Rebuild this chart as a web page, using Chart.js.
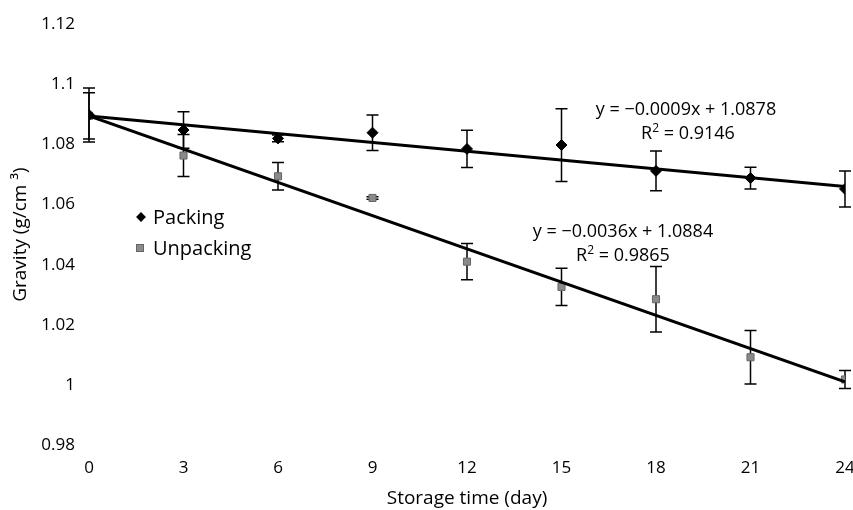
<!DOCTYPE html>
<html><head><meta charset="utf-8">
<script src="https://cdn.jsdelivr.net/npm/chart.js@4"></script>
<style>
html,body{margin:0;padding:0;background:#fff;}
#wrap{position:relative;width:853px;height:510px;overflow:hidden;}
#c{position:absolute;left:0;top:0;}
.t{position:absolute;font-family:'Open Sans',sans-serif;color:#000;white-space:nowrap;font-size:18px;line-height:1;transform:translate(-50%,-50%);}
.lg{position:absolute;font-family:'Open Sans',sans-serif;color:#000;white-space:nowrap;font-size:20px;line-height:1;transform:translateY(-50%);}
.dia{position:absolute;width:7px;height:7px;background:#000;transform:translate(-50%,-50%) rotate(45deg);}
.sq{position:absolute;width:8px;height:8px;background:#8a8a8a;border:1px solid #666;box-sizing:border-box;transform:translate(-50%,-50%);}
sup{font-size:12px;vertical-align:0;position:relative;top:-7px;}
</style></head><body>
<div id="wrap">
<canvas id="c" width="853" height="510"></canvas>
<div class="t" style="left:686px;top:108px">y = −0.0009x + 1.0878</div>
<div class="t" style="left:688px;top:132px">R<sup>2</sup> = 0.9146</div>
<div class="t" style="left:623px;top:230px">y = −0.0036x + 1.0884</div>
<div class="t" style="left:623px;top:254px">R<sup>2</sup> = 0.9865</div>
<div class="dia" style="left:141px;top:217px"></div>
<div class="lg" style="left:153px;top:217px">Packing</div>
<div class="sq" style="left:140px;top:248px"></div>
<div class="lg" style="left:153px;top:248px">Unpacking</div>
</div>
<script>
const days = [0, 3, 6, 9, 12, 15, 18, 21, 24];
const packing = [1.0898, 1.0848, 1.0820, 1.0839, 1.0785, 1.0798, 1.0712, 1.0688, 1.0652];
const packingErr = [0.0090, 0.0061, 0.0011, 0.0059, 0.0062, 0.0121, 0.0066, 0.0036, 0.0060];
const unpacking = [1.0895, 1.0763, 1.0694, 1.0622, 1.0410, 1.0326, 1.0285, 1.0092, 1.0018];
const unpackingErr = [0.0077, 0.0070, 0.0046, 0.0004, 0.0060, 0.0062, 0.0109, 0.0089, 0.0030];
const trendDays = [0, 24];
const packingTrend = [1.0895, 1.0660];
const unpackingTrend = [1.0895, 1.0010];
const xTicks = [0, 3, 6, 9, 12, 15, 18, 21, 24];
const yTicks = [0.98, 1.0, 1.02, 1.04, 1.06, 1.08, 1.1, 1.12];

const pts = (xs, ys) => xs.map((x, i) => ({x: x, y: ys[i]}));

const errorBars = {
  id: 'errorBars',
  beforeDatasetsDraw(chart) {
    const ctx = chart.ctx, xs = chart.scales.x, ys = chart.scales.y;
    ctx.save();
    ctx.strokeStyle = '#000';
    ctx.lineWidth = 1.5;
    const draw = (vals, errs) => {
      days.forEach((d, i) => {
        const px = xs.getPixelForValue(d);
        const top = ys.getPixelForValue(vals[i] + errs[i]);
        const bot = ys.getPixelForValue(vals[i] - errs[i]);
        ctx.beginPath();
        ctx.moveTo(px, top); ctx.lineTo(px, bot);
        ctx.moveTo(px - 6, top); ctx.lineTo(px + 6, top);
        ctx.moveTo(px - 6, bot); ctx.lineTo(px + 6, bot);
        ctx.stroke();
      });
    };
    draw(packing, packingErr);
    draw(unpacking, unpackingErr);
    ctx.restore();
  }
};

new Chart(document.getElementById('c'), {
  type: 'scatter',
  data: {
    datasets: [
      {label: 'Packing trend', data: pts(trendDays, packingTrend), showLine: true, borderColor: '#000', borderWidth: 3, pointRadius: 0, order: 1},
      {label: 'Unpacking trend', data: pts(trendDays, unpackingTrend), showLine: true, borderColor: '#000', borderWidth: 3, pointRadius: 0, order: 1},
      {label: 'Packing', data: pts(days, packing), pointStyle: 'rectRot', pointRadius: 5.5, backgroundColor: '#000', borderColor: '#000', borderWidth: 1, order: 2},
      {label: 'Unpacking', data: pts(days, unpacking), pointStyle: 'rect', pointRadius: 5, backgroundColor: '#8a8a8a', borderColor: '#666', borderWidth: 1, order: 3}
    ]
  },
  plugins: [errorBars],
  options: {
    responsive: false,
    animation: false,
    events: [],
    layout: {padding: {top: 22, right: 8, left: 0, bottom: 0}},
    plugins: {legend: {display: false}, tooltip: {enabled: false}},
    scales: {
      x: {
        type: 'linear', min: 0, max: 24,
        afterBuildTicks: s => { s.ticks = xTicks.map(v => ({value: v})); },
        afterFit: s => { s.height = 65; s.paddingRight = 0; s.paddingLeft = 0; },
        grid: {display: false, drawTicks: false},
        border: {display: false},
        ticks: {color: '#000', font: {family: 'Open Sans', size: 17}, padding: 13, maxRotation: 0, autoSkip: false},
        title: {display: true, text: 'Storage time (day)', color: '#000', font: {family: 'Open Sans', size: 19}, padding: {top: 0, bottom: 0}}
      },
      y: {
        type: 'linear', min: 0.98, max: 1.12,
        afterBuildTicks: s => { s.ticks = yTicks.map(v => ({value: v})); },
        afterFit: s => { s.width = 89; },
        grid: {display: false, drawTicks: false},
        border: {display: false},
        ticks: {color: '#000', font: {family: 'Open Sans', size: 17}, padding: 14, autoSkip: false,
          callback: v => String(parseFloat(v.toFixed(2)))},
        title: {display: true, text: 'Gravity (g/cm ³)', color: '#000', font: {family: 'Open Sans', size: 19}, padding: {top: 9, bottom: 0}}
      }
    }
  }
});
</script>
</body></html>
